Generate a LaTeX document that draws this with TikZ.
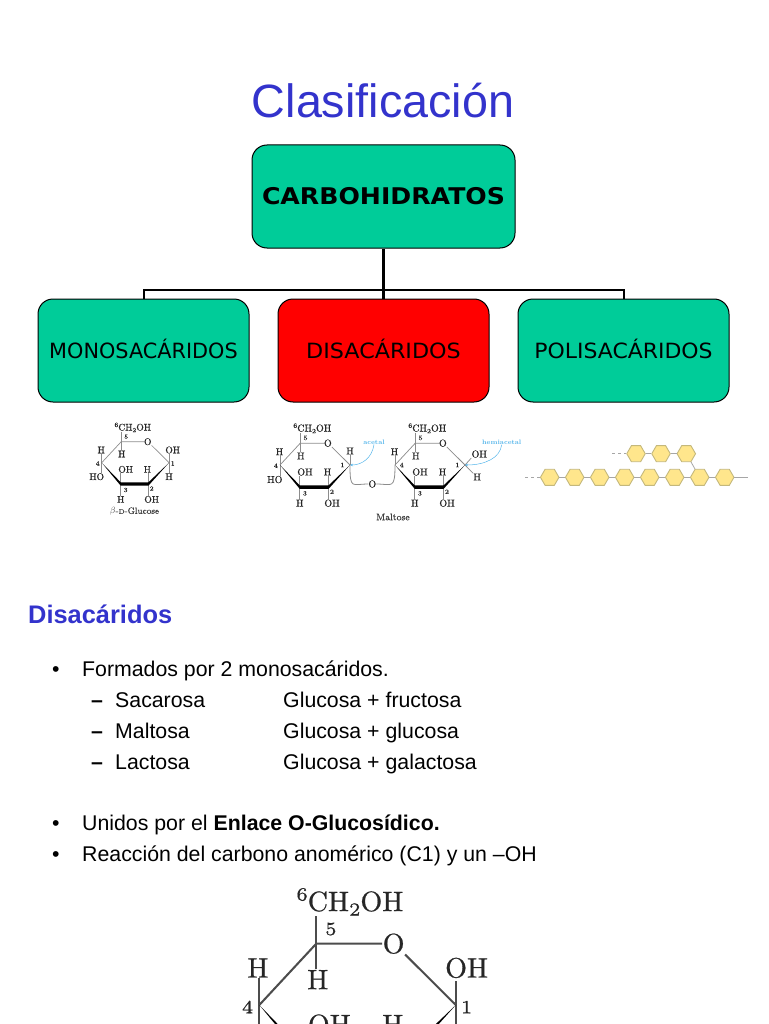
\documentclass[tikz,border=0pt]{standalone}
\usepackage{fontspec}
\usepackage{graphicx}
\usetikzlibrary{shapes.geometric,arrows.meta}
\newfontfamily\arialf{Liberation Sans}
\newfontfamily\verdf{DejaVu Sans}
\newfontfamily\chemf{Latin Modern Roman}[FakeBold=0.7]
\definecolor{titleblue}{HTML}{3333CC}
\definecolor{boxgreen}{HTML}{00CC99}
\definecolor{acblue}{HTML}{55B5EA}
\definecolor{hexfill}{HTML}{FFE68C}
\definecolor{hexline}{HTML}{C4B87C}
\colorlet{bondc}{black!45}
\tikzset{
  catbox/.style={draw=black,line width=1pt,rounded corners=15pt,fill=boxgreen,minimum width=211pt,minimum height=103pt,inner sep=0pt,text height=15.3pt,text depth=0pt,font=\verdf\fontsize{21}{24}\selectfont},
  link/.style={draw=black,line width=2pt},
  body/.style={anchor=base west,inner sep=0pt,font=\arialf\fontsize{21.3}{25}\selectfont},
  chem/.style={inner sep=0pt,text=black!85,font=\chemf\fontsize{9.6}{11}\selectfont},
  num/.style={inner sep=0pt,text=black!85,font=\chemf\fontsize{6.4}{7}\selectfont},
  hexa/.style={regular polygon,regular polygon sides=6,minimum size=18.5pt,inner sep=0pt,draw=hexline,fill=hexfill,line width=0.9pt},
  chain/.style={draw=black!35,line width=0.8pt},
  note/.style={inner sep=0pt,text=acblue,font=\rmfamily\bfseries\fontsize{6.5}{8}\selectfont},
  notearrow/.style={draw=acblue,line width=0.5pt,-{Stealth[length=3pt,width=2.5pt]}},
}
\newcommand{\chtwo}{\raisebox{3.6pt}{\fontsize{6.4}{7}\selectfont 6}CH\raisebox{-1.6pt}{\fontsize{6.4}{7}\selectfont 2}OH}
% #1 prefix, #2 x, #3 y, #4 scale, #5 extras in local coordinates
\newcommand{\sugarring}[5]{%
\begin{scope}[shift={(#2,#3)},scale=#4,transform shape]
  \coordinate (#1c4) at (0,0);
  \coordinate (#1c5) at (19.5,-21);
  \coordinate (#1c1) at (67.3,0);
  \coordinate (#1c2) at (46.7,21.3);
  \coordinate (#1c3) at (19,21.3);
  \node[chem] (#1o) at (46,-21) {O};
  \node[chem] (#1top) at (31,-35.3) {\chtwo};
  \node[chem] (#1h5) at (20,-8.7) {H};
  \node[chem] (#1h4) at (-0.5,-12.7) {H};
  \node[chem] (#1oh3) at (24,6.7) {OH};
  \node[chem] (#1h2) at (45.7,6.7) {H};
  \node[chem] (#1h3) at (19,36.7) {H};
  \node[chem] (#1oh2) at (50,36.7) {OH};
  \node[num] (#1n5) at (24.5,-26) {5};
  \node[num] (#1n3) at (24,27.3) {3};
  \node[num] (#1n2) at (50,25.7) {2};
  \begin{scope}[draw=bondc,line width=#4*0.7pt]
    \draw (#1c4) -- (#1c5) -- (#1o.west);
    \draw (#1o.south east) -- (#1c1);
    \draw (#1top.south -| #1c5) -- (#1h5.north -| #1c5);
    \draw (#1c4) -- (#1h4.south -| #1c4);
    \draw (#1c3) -- (#1h3.north -| #1c3);
    \draw (#1c3) -- (#1oh3.south -| #1c3);
    \draw (#1c2) -- (#1h2.south -| #1c2);
    \draw (#1c2) -- (#1oh2.north -| #1c2);
    #5
  \end{scope}
  \fill[black] (#1c4) -- (19,19.6) -- (46.7,19.6) -- (#1c1) -- (46.7,23) -- (19,23) -- cycle;
\end{scope}}
\begin{document}
\begin{tikzpicture}[x=1pt,y=-1pt]
\useasboundingbox (0,0) rectangle (768,1024);
\clip (0,0) rectangle (768,1024);

\node[inner sep=0pt,anchor=base,text=titleblue,font=\arialf\fontsize{46.7}{50}\selectfont] (title) at (383,118) {Clasificación};

\node[catbox,minimum width=263pt,text height=16.8pt,font=\verdf\bfseries\fontsize{23}{26}\selectfont] (carb) at (383.5,196.5) {\scalebox{1.095}[1]{CARBOHIDRATOS}};
\node[catbox] (mono) at (143.5,350.5) {\scalebox{0.99}[1]{MONOSACÁRIDOS}};
\node[catbox,fill=red] (disa) at (383.5,350.5) {\scalebox{1.06}[1]{DISACÁRIDOS}};
\node[catbox] (poli) at (623.5,350.5) {\scalebox{1.045}[1]{POLISACÁRIDOS}};

\coordinate (hub) at (383.5,290);
\draw[link,line width=3pt] (carb.south) -- (disa.north);
\draw[link] (hub) -| (mono.north);
\draw[link] (hub) -| (poli.north);

% beta-D-glucose
\sugarring{a}{101.7}{462.7}{1}{
  \node[num] (an4) at (-4,0.7) {4};
  \node[num] (an1) at (71,0.7) {1};
  \node[chem] (aoh) at (71,-12.7) {OH};
  \node[chem] (ah) at (67.3,14) {H};
  \node[chem] (aho) at (-5,14) {HO};
  \draw (ac1) -- (aoh.south -| ac1);
  \draw (ac1) -- (ah.north);
  \draw (ac4) -- (aho.north -| ac4);
}
\node[inner sep=0pt,text=black!75,font=\chemf\fontsize{9}{10}\selectfont] (alabel) at (134.5,511.5) {$\beta$-{\fontsize{6.5}{7}\selectfont D}-Glucose};

% maltose
\sugarring{l}{280}{465}{1.04}{
  \node[num] (ln4) at (-4,0.7) {4};
  \node[num] (ln1) at (60,0) {1};
  \node[chem] (lh) at (67.3,-13.5) {H};
  \node[chem] (lho) at (-5,14) {HO};
  \draw (lc1) -- (lh.south);
  \draw (lc4) -- (lho.north -| lc4);
}
\sugarring{r}{395}{465}{1.04}{
  \node[num] (rn4) at (6.5,0) {4};
  \node[num] (rn1) at (60,0) {1};
  \node[chem] (roh) at (81,-10.5) {OH};
  \node[chem] (rh) at (79,11.5) {H};
  \draw (rc1) -- (roh.south west);
  \draw (rc1) -- (rh.north west);
}
\node[chem,font=\chemf\fontsize{10}{12}\selectfont] (bo) at (372.3,484) {O};
\draw[draw=bondc,line width=0.8pt] (lc1) .. controls (350,490) and (352,484) .. (bo.west);
\draw[draw=bondc,line width=0.8pt] (bo.east) .. controls (392,484) and (395,490) .. (rc4);
\node[inner sep=0pt,text=black!75,font=\chemf\fontsize{9.5}{11}\selectfont] (mlabel) at (393,517) {Maltose};
\node[note] (acetal) at (374,442) {acetal};
\node[note] (hemi) at (501.7,442.3) {hemiacetal};
\draw[notearrow] (acetal.south) .. controls (372,458) and (362,465) .. (lc1);
\draw[notearrow] (hemi.south) .. controls (500,458) and (485,465) .. (rc1);

% polysaccharide
\foreach \i/\x in {1/549.7,2/574.7,3/599.7,4/624.7,5/649.7,6/674.7,7/699.7,8/724.7}
  \node[hexa] (b\i) at (\x,477.3) {};
\foreach \i/\x in {1/636,2/661,3/686.3}
  \node[hexa] (t\i) at (\x,453.7) {};
\coordinate (bl) at (525,477.3);
\coordinate (br) at (748,477.3);
\coordinate (tl) at (612,453.7);
\draw[chain,dashed] (bl) -- (b1);
\draw[chain] (b8) -- (br);
\draw[chain,dashed] (tl) -- (t1);
\foreach \a/\b in {1/2,2/3,3/4,4/5,5/6,6/7,7/8} \draw[chain] (b\a) -- (b\b);
\foreach \a/\b in {1/2,2/3} \draw[chain] (t\a) -- (t\b);
\draw[chain] (t3) -- (b7);

% text block
\node[anchor=base west,inner sep=0pt,text=titleblue,font=\arialf\bfseries\fontsize{25.4}{30}\selectfont] (head) at (28,623.5) {Disacáridos};
\node[body] (b1t) at (52,676.5) {•};
\node[body] (f1) at (82,676.5) {Formados por 2 monosacáridos.};
\node[body] (d1) at (91,707.5) {\textbf{–}};
\node[body] (s1) at (115,707.5) {Sacarosa};
\node[body] (g1) at (283,707.5) {Glucosa + fructosa};
\node[body] (d2) at (91,738.5) {\textbf{–}};
\node[body] (s2) at (115,738.5) {Maltosa};
\node[body] (g2) at (283,738.5) {Glucosa + glucosa};
\node[body] (d3) at (91,769.5) {\textbf{–}};
\node[body] (s3) at (115,769.5) {Lactosa};
\node[body] (g3) at (283,769.5) {Glucosa + galactosa};
\node[body] (b2t) at (52,830.5) {•};
\node[body] (f2) at (82,830.5) {Unidos por el \textbf{Enlace O-Glucosídico.}};
\node[body] (b3t) at (52,861.5) {•};
\node[body] (f3) at (82,861.5) {Reacción del carbono anomérico (C1) y un –OH};

% large ring, cut by the page edge
\colorlet{bondc}{black!70}
\sugarring{g}{259.3}{1005}{2.92}{
  \node[num] (gn4) at (-4,0.7) {4};
  \node[num] (gn1) at (71,0.7) {1};
  \node[chem] (goh) at (71,-12.7) {OH};
  \node[chem] (gh) at (67.3,14) {H};
  \draw (gc1) -- (goh.south -| gc1);
  \draw (gc1) -- (gh.north);
  \draw (gc4) -- ++(0,8);
}
\end{tikzpicture}
\end{document}
